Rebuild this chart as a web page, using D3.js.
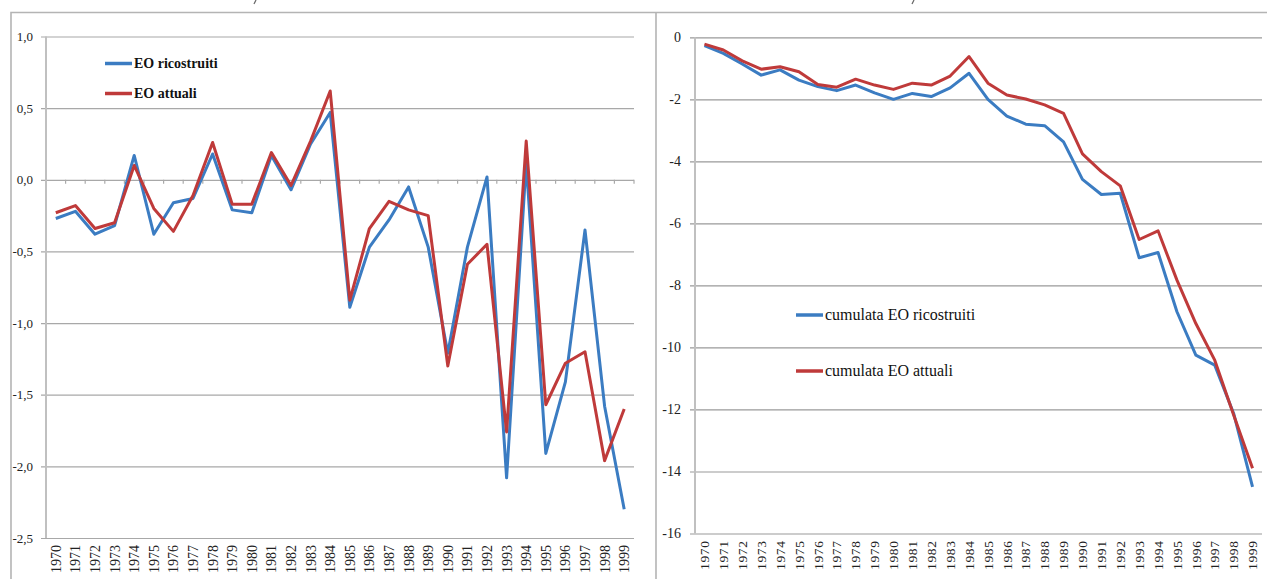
<!DOCTYPE html>
<html>
<head>
<meta charset="utf-8">
<script src="https://cdn.jsdelivr.net/npm/d3@7"></script>
<style>
  body { margin: 0; background: #fff; }
  svg, svg text { font-family: "Liberation Serif", "Times New Roman", serif !important; }
</style>
</head>
<body>
<svg id="chart" width="1267" height="579"></svg>
<script>
// anni
var years = d3.range(1970, 2000).map(String);

// pannello sinistro: EO annuali
var eoRicostruiti = [-0.27, -0.22, -0.38, -0.32, 0.17, -0.38, -0.16, -0.13, 0.18, -0.21,
  -0.23, 0.17, -0.07, 0.25, 0.47, -0.89, -0.47, -0.28, -0.05, -0.47,
  -1.21, -0.47, 0.02, -2.08, 0.12, -1.91, -1.41, -0.35, -1.58, -2.30];
var eoAttuali = [-0.23, -0.18, -0.34, -0.30, 0.10, -0.20, -0.36, -0.11, 0.26, -0.17,
  -0.17, 0.19, -0.04, 0.27, 0.62, -0.84, -0.34, -0.15, -0.21, -0.25,
  -1.30, -0.59, -0.45, -1.76, 0.27, -1.57, -1.28, -1.20, -1.96, -1.60];

// pannello destro: cumulate
var cumRicostruiti = [-0.27, -0.52, -0.86, -1.22, -1.05, -1.38, -1.59, -1.72, -1.54, -1.79,
  -2.00, -1.81, -1.91, -1.63, -1.16, -2.00, -2.54, -2.80, -2.85, -3.37,
  -4.58, -5.07, -5.03, -7.11, -6.94, -8.85, -10.25, -10.57, -12.13, -14.50];
var cumAttuali = [-0.22, -0.41, -0.76, -1.03, -0.95, -1.11, -1.52, -1.61, -1.35, -1.54,
  -1.68, -1.48, -1.54, -1.25, -0.62, -1.48, -1.86, -1.99, -2.18, -2.45,
  -3.76, -4.33, -4.79, -6.52, -6.24, -7.83, -9.23, -10.41, -12.18, -13.90];

var leftTicks = [1.0, 0.5, 0.0, -0.5, -1.0, -1.5, -2.0, -2.5];
var rightTicks = [0, -2, -4, -6, -8, -10, -12, -14, -16];

var blue = "#3b7cc2", red = "#bf3a3a";
var serif = "'Liberation Serif', 'Times New Roman', serif";

var svg = d3.select("#chart");

// cornici dei pannelli
svg.append("path")
  .attr("d", "M11,579V12.5H1267M656,12.5V579")
  .attr("fill", "none")
  .attr("stroke", "#b4b4b4")
  .attr("stroke-width", 1.6);

// resti dei titoli tagliati sul bordo alto
[254, 912].forEach(function (px) {
  svg.append("path")
    .attr("d", "M" + (px + 2) + ",0L" + px + ",4")
    .attr("stroke", "#666").attr("stroke-width", 1.2);
});

function panel(opt) {
  var g = svg.append("g");

  var x = d3.scaleBand().domain(years).range([opt.left, opt.right]);
  var y = d3.scaleLinear().domain(opt.domain).range([opt.top, opt.bottom]);

  // griglia + etichette asse y
  var yAxis = g.append("g")
    .attr("transform", "translate(" + opt.left + ",0)")
    .call(d3.axisLeft(y)
      .tickValues(opt.ticks)
      .tickSize(-(opt.right - opt.left))
      .tickPadding(opt.pad)
      .tickFormat(opt.fmt));
  yAxis.attr("font-family", null);
  yAxis.select(".domain").remove();
  yAxis.selectAll(".tick line")
    .attr("x1", -5)
    .attr("stroke", opt.gridColor)
    .attr("stroke-width", 1.2);
  yAxis.selectAll(".tick text")
    .style("font-family", serif)
    .attr("font-size", opt.yFont)
    .attr("fill", "#222");

  // asse verticale
  g.append("line")
    .attr("x1", opt.left).attr("x2", opt.left)
    .attr("y1", y(opt.domain[0])).attr("y2", y(opt.domain[1]))
    .attr("stroke", "#c0c0c0")
    .attr("stroke-width", 2);

  // tacche dell'asse categorie
  if (opt.zeroTicks) {
    var bounds = years.map(function (d) { return x(d); }).concat([opt.right]);
    g.selectAll(".ctick").data(bounds.slice(1)).enter().append("line")
      .attr("x1", function (d) { return d; }).attr("x2", function (d) { return d; })
      .attr("y1", y(0)).attr("y2", y(0) + 4)
      .attr("stroke", "#aaa").attr("stroke-width", 1.2);
  }

  // etichette anni ruotate
  g.selectAll(".yr").data(years).enter().append("text")
    .attr("transform", function (d) {
      return "translate(" + (x(d) + x.bandwidth() / 2) + "," + (opt.bottom + 7) + ") rotate(-90)";
    })
    .attr("text-anchor", "end")
    .attr("dy", "0.35em")
    .style("font-family", serif)
    .attr("font-size", opt.xFont)
    .attr("letter-spacing", opt.xSpacing)
    .attr("fill", "#222")
    .text(function (d) { return d; });

  var line = d3.line()
    .x(function (d, i) { return x(years[i]) + x.bandwidth() / 2; })
    .y(function (d) { return y(d); });

  opt.series.forEach(function (s) {
    g.append("path")
      .datum(s.values)
      .attr("fill", "none")
      .attr("stroke", s.color)
      .attr("stroke-width", 3)
      .attr("stroke-linejoin", "round")
      .attr("d", line);
  });

  // legenda
  opt.series.forEach(function (s, i) {
    var ly = opt.legend.y + i * opt.legend.gap;
    g.append("line")
      .attr("x1", opt.legend.x).attr("x2", opt.legend.x + 27)
      .attr("y1", ly).attr("y2", ly)
      .attr("stroke", s.color).attr("stroke-width", 3.5);
    g.append("text")
      .attr("x", opt.legend.x + 29).attr("y", ly)
      .attr("dy", "0.33em")
      .style("font-family", serif)
      .attr("font-size", opt.legend.font)
      .attr("font-weight", opt.legend.weight)
      .attr("fill", "#111")
      .text(s.name);
  });
}

var commaFmt = function (d) { return d3.format(".1f")(d).replace(".", ",").replace("−", "-"); };

panel({
  left: 46, right: 634, top: 36.5, bottom: 538,
  domain: [1.0, -2.5], ticks: leftTicks, fmt: commaFmt,
  pad: 13, yFont: 13, xFont: 14, xSpacing: 0,
  gridColor: "#a8a8a8", zeroTicks: true,
  series: [
    { name: "EO ricostruiti", values: eoRicostruiti, color: blue },
    { name: "EO attuali", values: eoAttuali, color: red }
  ],
  legend: { x: 105, y: 63.5, gap: 30, font: 14, weight: "bold" }
});

panel({
  left: 695, right: 1262, top: 37.3, bottom: 533.5,
  domain: [0, -16], ticks: rightTicks, fmt: function (d) { return String(d).replace("−", "-"); },
  pad: 14, yFont: 14, xFont: 13.5, xSpacing: 0.6,
  gridColor: "#9a9a9a", zeroTicks: false,
  series: [
    { name: "cumulata EO ricostruiti", values: cumRicostruiti, color: blue },
    { name: "cumulata EO attuali", values: cumAttuali, color: red }
  ],
  legend: { x: 796, y: 315, gap: 56, font: 16, weight: "normal" }
});
</script>
</body>
</html>
